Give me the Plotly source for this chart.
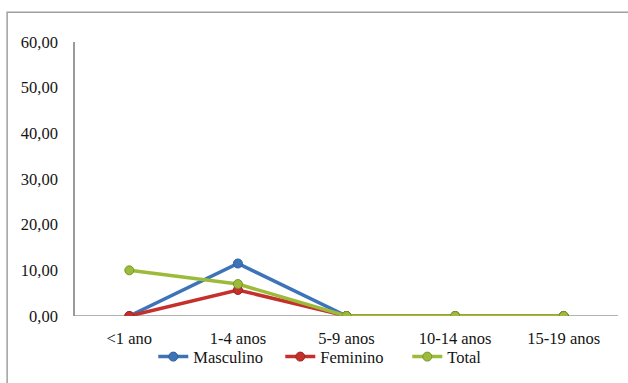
import plotly.graph_objects as go

faixas = ["<1 ano", "1-4 anos", "5-9 anos", "10-14 anos", "15-19 anos"]
masculino = [0.0, 11.5, 0.0, 0.0, 0.0]
feminino = [0.0, 5.7, 0.0, 0.0, 0.0]
total = [10.0, 7.0, 0.0, 0.0, 0.0]
y_ticks = [0, 10, 20, 30, 40, 50, 60]

series = [
    ("Masculino", masculino, "#3D74B9", "#2F5E99"),
    ("Feminino", feminino, "#C4302B", "#9E2520"),
    ("Total", total, "#9DBB3A", "#7A9628"),
]

fig = go.Figure()
for name, vals, color, edge in series:
    fig.add_trace(go.Scatter(
        x=faixas, y=vals, name=name, mode="lines+markers",
        line=dict(color=color, width=3.5),
        marker=dict(symbol="circle", size=9, color=color,
                    line=dict(color=edge, width=1)),
    ))

font = dict(family="Liberation Serif, Times New Roman, serif", size=16.5, color="#141414")

fig.update_layout(
    width=628, height=383,
    margin=dict(l=75, r=10, t=42, b=66),
    paper_bgcolor="white", plot_bgcolor="white",
    separators=", ",
    font=font,
    showlegend=True,
    legend=dict(orientation="h", x=0.495, xanchor="center", y=-0.145, yanchor="middle",
                font=font, itemwidth=30, entrywidth=82, entrywidthmode="pixels",
                tracegroupgap=0, bgcolor="rgba(0,0,0,0)"),
    xaxis=dict(type="category", showgrid=False, zeroline=False,
               showline=False, ticks="", tickfont=font,
               ticklabelstandoff=10, range=[-0.5, 4.5]),
    yaxis=dict(range=[0, 60], tickvals=y_ticks, tickformat=".2f",
               showgrid=False, zeroline=False, showline=True,
               linecolor="#9a9a9a", linewidth=1.5, ticks="",
               ticklabelstandoff=12, tickfont=font),
    shapes=[
        # baseline along zero
        dict(type="line", xref="paper", yref="y", x0=0, x1=1, y0=0, y1=0,
             line=dict(color="#9a9a9a", width=1.5), layer="below"),
        # chart area frame
        dict(type="rect", xref="paper", yref="paper",
             x0=-0.125, x1=1.03, y0=-0.26, y1=1.109,
             line=dict(color="#a0a0a0", width=1.5)),
    ],
)

fig.write_html("out.html")
